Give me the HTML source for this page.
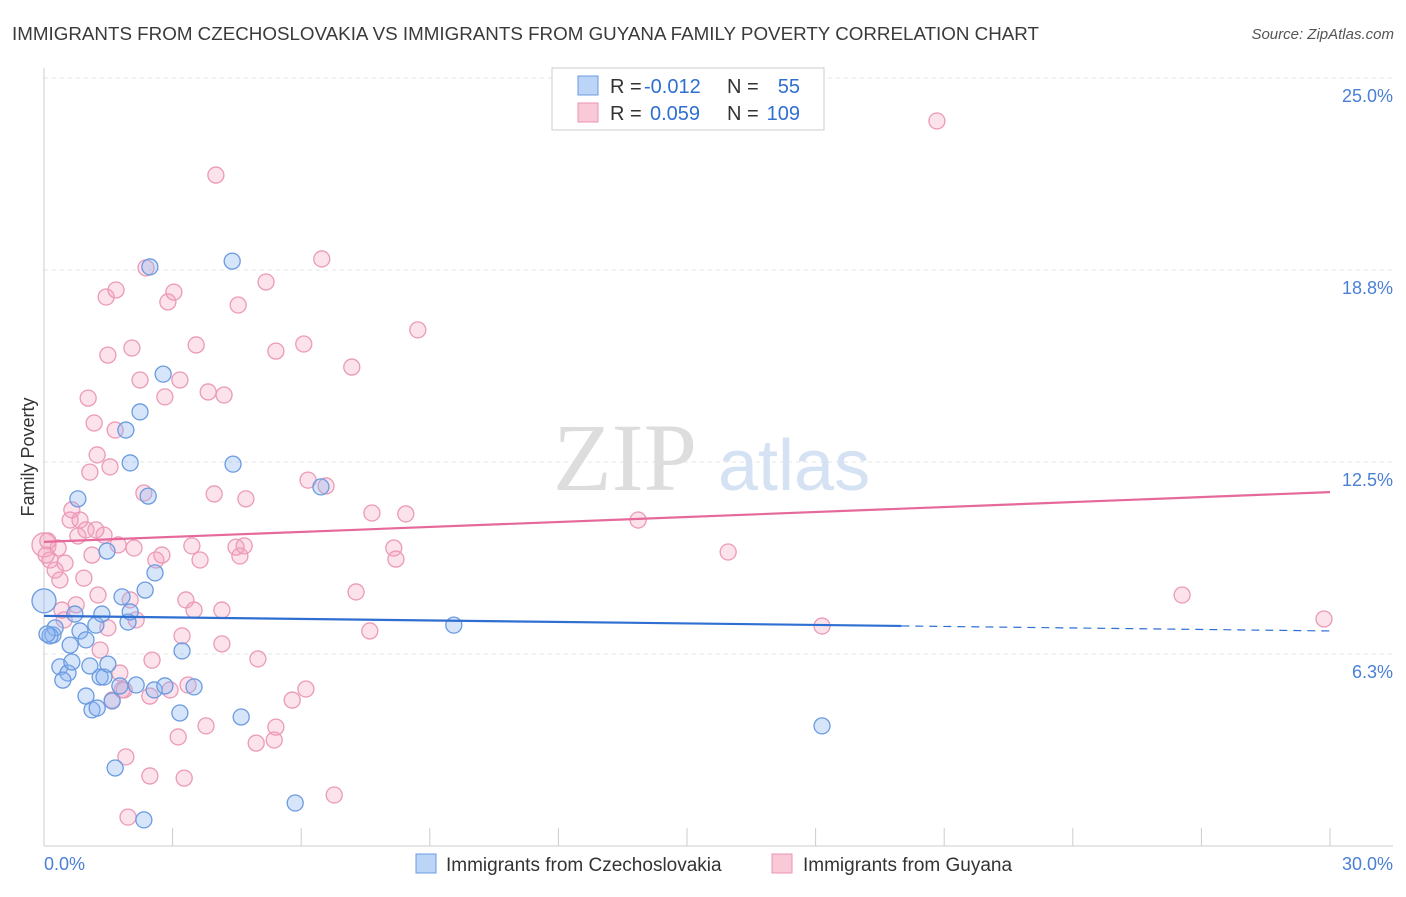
<!DOCTYPE html>
<html><head><meta charset="utf-8"><style>
body{margin:0;background:#fff;font-family:"Liberation Sans",sans-serif;}
svg text{font-family:"Liberation Sans",sans-serif;}
</style></head><body>
<svg id="chart" width="1406" height="892" xmlns="http://www.w3.org/2000/svg">
<text x="12" y="40" font-size="18" fill="#3a3a3a" textLength="1027" lengthAdjust="spacingAndGlyphs">IMMIGRANTS FROM CZECHOSLOVAKIA VS IMMIGRANTS FROM GUYANA FAMILY POVERTY CORRELATION CHART</text>
<text x="1394" y="39" font-size="15" fill="#555" font-style="italic" text-anchor="end">Source: ZipAtlas.com</text>
<g id="grid"></g>
<text x="553" y="490" font-size="96" fill="#ddd" font-family="Liberation Serif" style="font-family:'Liberation Serif',serif">ZIP</text>
<text x="718" y="490" font-size="72" fill="#d4e2f4">atlas</text>
<text transform="translate(34,457) rotate(-90)" font-size="18" fill="#333" text-anchor="middle">Family Poverty</text>
<g id="axes"></g>
<g id="pts"></g>
<g id="trends"></g>
<g>
<rect x="552" y="68" width="272" height="62" fill="#fff" stroke="#ccc"/>
<rect x="578" y="76" width="20" height="19" fill="#bcd5f7" stroke="#6a9be0"/>
<rect x="578" y="103" width="20" height="19" fill="#f9c9d8" stroke="#e994b4"/>
<text x="610" y="93" font-size="20" fill="#333">R =</text>
<text x="644" y="93" font-size="20" fill="#2f6fd1">-0.012</text>
<text x="727" y="93" font-size="20" fill="#333">N =</text>
<text x="800" y="93" font-size="20" fill="#2f6fd1" text-anchor="end">55</text>
<text x="610" y="120" font-size="20" fill="#333">R =</text>
<text x="650" y="120" font-size="20" fill="#2f6fd1">0.059</text>
<text x="727" y="120" font-size="20" fill="#333">N =</text>
<text x="800" y="120" font-size="20" fill="#2f6fd1" text-anchor="end">109</text>
</g>
<g>
<rect x="416" y="854" width="20" height="19" fill="#bcd5f7" stroke="#6a9be0"/>
<text x="446" y="871" font-size="19" fill="#333">Immigrants from Czechoslovakia</text>
<rect x="772" y="854" width="20" height="19" fill="#f9c9d8" stroke="#e994b4"/>
<text x="803" y="871" font-size="19" fill="#333">Immigrants from Guyana</text>
</g>
</svg>
<script>
const blueX=[0,0.21,0.26,0.14,0.37,0.56,0.44,0.65,0.72,0.84,0.79,0.98,0.98,1.12,1.24,1.21,1.31,1.40,1.35,1.47,1.49,1.59,1.66,1.82,1.91,1.96,2.01,2.15,2.24,2.33,2.36,2.43,2.47,2.57,2.59,2.78,2.82,3.17,3.22,3.50,4.39,4.41,4.60,5.86,6.46,9.56,18.15,2.01,1.07,1.77,0.07,0.61];
const blueY=[7.98,6.87,7.10,6.84,5.83,5.63,5.40,5.99,7.55,7.00,11.30,6.71,4.88,4.43,4.49,7.19,5.50,5.50,7.55,9.60,5.92,4.72,2.54,8.11,13.54,7.29,12.47,5.24,14.13,0.85,8.33,11.39,18.85,5.08,8.89,15.36,5.21,4.33,6.35,5.18,19.04,12.43,4.20,1.40,11.69,7.19,3.91,7.62,5.86,5.21,6.90,6.54];
const pinkX=[0,0.14,0.26,0.33,0.09,0.37,0.49,0.61,0.65,0.75,0.79,0.84,0.93,0.98,1.03,1.07,1.12,1.17,1.24,1.31,1.40,1.45,1.49,1.54,1.59,1.66,1.68,1.73,1.77,1.82,1.87,1.91,1.96,2.01,2.05,2.10,2.15,2.24,2.33,2.38,2.47,2.52,2.47,2.61,2.75,2.82,2.89,2.94,3.03,3.13,3.17,3.22,3.27,3.31,3.36,3.45,3.50,3.55,3.64,3.78,3.83,3.97,4.01,4.15,4.15,4.20,4.48,4.53,4.57,4.67,4.71,4.95,4.99,5.18,5.37,5.41,5.41,5.79,6.06,6.11,6.16,6.48,6.58,6.77,7.18,7.28,7.60,7.65,8.16,8.21,8.44,8.72,13.86,15.96,18.15,20.83,26.55,29.86,0.47,0.42,1.49,1.21,1.26,0.05];
const pinkY=[9.80,9.31,8.98,9.70,9.93,8.66,9.21,10.61,10.94,7.85,10.09,10.61,8.72,10.29,14.58,12.17,9.47,13.77,12.73,6.38,10.12,17.87,15.98,12.34,4.75,13.54,18.10,9.80,5.63,5.08,5.08,2.90,0.94,8.01,16.21,9.70,7.36,15.17,11.49,18.82,2.28,6.05,4.88,9.31,9.47,14.62,17.71,5.08,18.03,3.55,15.17,6.84,2.21,8.01,5.24,9.77,7.68,16.31,9.31,3.91,14.78,11.46,21.84,6.58,7.68,14.68,9.73,17.61,9.44,9.77,11.30,3.35,6.09,18.36,3.45,3.87,16.11,4.75,16.34,5.11,11.91,19.11,11.72,1.66,15.59,8.27,7.00,10.84,9.70,9.34,10.81,16.80,10.61,9.57,7.16,23.60,8.17,7.39,7.36,7.68,7.10,10.29,8.17,9.47];
const yTicks=[6.25,12.5,18.75,25];
const yTickLabels=["6.3%","12.5%","18.8%","25.0%"];
const xTicks=[0,3,6,9,12,15,18,21,24,27,30];
const blueTrend=[7.49,7.0];
const pinkTrend=[9.90,11.52];
const blueSolidEnd=20;
const X=v=>44+v/30*1286, Y=v=>846-v*30.72;
const NS="http://www.w3.org/2000/svg";
function mk(p,t,a){const e=document.createElementNS(NS,t);for(const k in a)e.setAttribute(k,a[k]);p.appendChild(e);return e;}
const grid=document.getElementById('grid'),axes=document.getElementById('axes'),pts=document.getElementById('pts'),tr=document.getElementById('trends');
yTicks.forEach((t,i)=>{
 const l=mk(grid,'line',{x1:44,x2:1393,y1:Y(t),y2:Y(t),stroke:'#e4e4e4','stroke-dasharray':'4,4'});
 
 
 const tx=mk(axes,'text',{x:1393,y:Y(t)+24,'font-size':18,fill:'#4a7fd6','text-anchor':'end'});tx.textContent=yTickLabels[i];
 
 
});
const ax=mk(axes,'line',{x1:44,x2:1393,y1:846,y2:846,stroke:'#ccc'});


const ay=mk(axes,'line',{x1:44,x2:44,y1:68,y2:846,stroke:'#ccc'});


xTicks.forEach(t=>{const l=mk(axes,'line',{x1:X(t),x2:X(t),y1:828,y2:846,stroke:'#ccc'});
 
 });
[[0,'0.0%','start',44],[30,'30.0%','end',1393]].forEach(d=>{const t=mk(axes,'text',{x:d[3],y:870,'font-size':18,fill:'#4a7fd6','text-anchor':d[2]});t.textContent=d[1];
 
 });
function dots(xs,ys,fill,stroke,name){xs.forEach((x,i)=>{const c=mk(pts,'circle',{cx:X(x),cy:Y(ys[i]),r:(x===0&&i===0)?12:8,fill:fill,stroke:stroke,'stroke-width':1.3});
 
 });}
dots(pinkX,pinkY,'rgba(244,160,190,0.3)','#eb9ab8','point-guyana');
dots(blueX,blueY,'rgba(140,180,240,0.35)','#6a9be0','point-czechoslovakia');
const by=x=>blueTrend[0]+(blueTrend[1]-blueTrend[0])*x/30, py=x=>pinkTrend[0]+(pinkTrend[1]-pinkTrend[0])*x/30;
let l=mk(tr,'line',{x1:X(0),y1:Y(by(0)),x2:X(blueSolidEnd),y2:Y(by(blueSolidEnd)),stroke:'#2f6fd1','stroke-width':2.2});


l=mk(tr,'line',{x1:X(blueSolidEnd),y1:Y(by(blueSolidEnd)),x2:X(30),y2:Y(by(30)),stroke:'#2f6fd1','stroke-width':1.2,'stroke-dasharray':'8,6'});


l=mk(tr,'line',{x1:X(0),y1:Y(py(0)),x2:X(30),y2:Y(py(30)),stroke:'#e5699a','stroke-width':2.2});


</script>
</body></html>
